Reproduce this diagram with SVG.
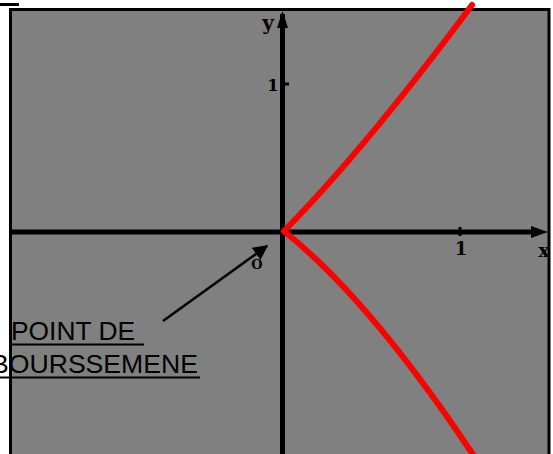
<svg xmlns="http://www.w3.org/2000/svg" width="553" height="454" viewBox="0 0 553 454">
<defs>
<style>
.axis{stroke:#000;stroke-width:5;fill:none}
.curve{stroke:#ff0000;stroke-width:6;fill:none;stroke-linecap:round}
.lbl{font-family:"DejaVu Serif",serif;font-weight:bold;fill:#000}
.cap{font-family:"Liberation Sans",Arial,sans-serif;font-size:26px;fill:#000}
.ul{stroke:#000;stroke-width:2}
</style>
<marker id="ah" viewBox="0 0 10 10" refX="9" refY="5" markerWidth="6" markerHeight="6" orient="auto" markerUnits="strokeWidth">
<path d="M0,0 L10,5 L0,10 z" fill="#000"/>
</marker>
</defs>
<rect x="0" y="0" width="553" height="454" fill="#fff"/>
<rect x="0" y="3" width="19" height="3" fill="#000"/>
<g id="plot">
<rect x="10.5" y="9.5" width="538.5" height="460" fill="#808080" stroke="#000" stroke-width="3"/>
</g>
<g id="axes">
<line class="axis" x1="12" y1="232" x2="540" y2="232"/>
<line class="axis" x1="282.5" y1="14" x2="282.5" y2="454"/>
<polygon points="531,226 548,232 531,238" fill="#000"/>
<polygon points="277,28 282.5,11 288,28" fill="#000"/>
<line x1="283" y1="84" x2="289" y2="84" stroke="#000" stroke-width="3"/>
<line x1="460" y1="227" x2="460" y2="236" stroke="#000" stroke-width="3"/>
<text class="lbl" x="268" y="30" font-size="20" text-anchor="middle">y</text>
<text class="lbl" x="273" y="91" font-size="17" text-anchor="middle">1</text>
<text class="lbl" x="257" y="269" font-size="13" text-anchor="middle">O</text>
<text class="lbl" x="461" y="255" font-size="18" text-anchor="middle">1</text>
<text class="lbl" x="544" y="257" font-size="19" text-anchor="middle">x</text>
</g>
<g id="curve">
<path class="curve" d="M284,231 Q364,150 472,5"/>
<path class="curve" d="M285,232 Q370,300 474,456"/>
</g>
<g id="connectors">
<line x1="163" y1="321" x2="267" y2="246" stroke="#000" stroke-width="2.5" marker-end="url(#ah)"/>
</g>
<g id="label">
<text class="cap" x="11" y="339.5" textLength="124" lengthAdjust="spacingAndGlyphs">POINT DE</text>
<line class="ul" x1="12" y1="344.5" x2="144" y2="344.5"/>
<text class="cap" x="-9" y="372.5" textLength="207" lengthAdjust="spacingAndGlyphs">BOURSSEMENE</text>
<line class="ul" x1="0" y1="377.5" x2="200" y2="377.5"/>
</g>
</svg>
